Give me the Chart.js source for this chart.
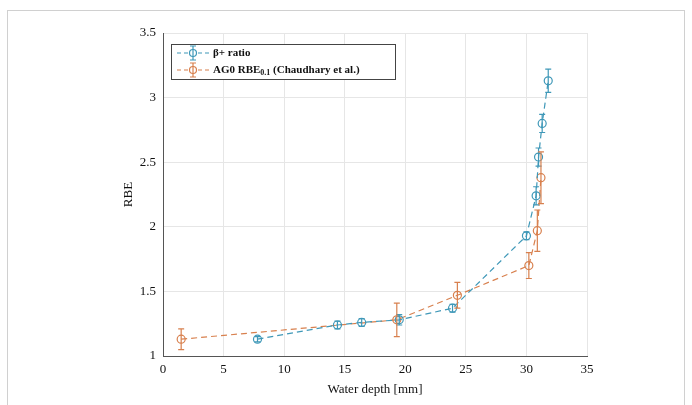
<!DOCTYPE html>
<html lang="en">
<head>
    <meta charset="utf-8" />
    <title>RBE vs water depth</title>
    <style>
        html, body { margin: 0; padding: 0; background: #fff; }
        .wrap { position: relative; width: 692px; height: 405px; overflow: hidden; }
        .frame {
            position: absolute; left: 7px; top: 10px; width: 678px; height: 420px;
            border: 1px solid #d0d0d0; box-sizing: border-box;
        }
        canvas { position: absolute; left: 0; top: 0; }
    </style>
</head>
<body>
    <div class="wrap">
        <div class="frame"></div>
        <canvas id="myChart" width="692" height="405"></canvas>
    </div>

    <script src="https://cdn.jsdelivr.net/npm/chart.js@4.4.1/dist/chart.umd.min.js"></script>
    <script>
        // beta+ ratio series
        var betaDepth = [7.8, 14.4, 16.4, 19.5, 23.9, 30.0, 30.8, 31.0, 31.3, 31.8];
        var betaRBE   = [1.13, 1.24, 1.26, 1.28, 1.37, 1.93, 2.24, 2.54, 2.80, 3.13];
        var betaErr   = [0.02, 0.03, 0.03, 0.04, 0.03, 0.03, 0.07, 0.07, 0.07, 0.09];

        // AG0 RBE (Chaudhary et al.)
        var ag0Depth = [1.5, 19.3, 24.3, 30.2, 30.9, 31.2];
        var ag0RBE   = [1.13, 1.28, 1.47, 1.70, 1.97, 2.38];
        var ag0Err   = [0.08, 0.13, 0.10, 0.10, 0.16, 0.20];

        var xTicks = [0, 5, 10, 15, 20, 25, 30, 35];
        var yTicks = [1, 1.5, 2, 2.5, 3, 3.5];

        var blue = '#3f98b8';
        var orange = '#d8804e';
        var serif = '"Liberation Serif", "DejaVu Serif", serif';

        function pts(xs, ys) {
            return xs.map(function (x, i) { return { x: x, y: ys[i] }; });
        }

        // vertical error bars drawn through the chart scales
        var errorBars = {
            id: 'errorBars',
            afterDatasetsDraw: function (chart) {
                var ctx = chart.ctx;
                var xs = chart.scales.x, ys = chart.scales.y;
                chart.data.datasets.forEach(function (ds) {
                    ctx.save();
                    ctx.strokeStyle = ds.borderColor;
                    ctx.lineWidth = 1.2;
                    ds.data.forEach(function (p, i) {
                        var px = xs.getPixelForValue(p.x);
                        var top = ys.getPixelForValue(p.y + ds.err[i]);
                        var bot = ys.getPixelForValue(p.y - ds.err[i]);
                        ctx.beginPath();
                        ctx.moveTo(px, top); ctx.lineTo(px, bot);
                        ctx.moveTo(px - 3, top); ctx.lineTo(px + 3, top);
                        ctx.moveTo(px - 3, bot); ctx.lineTo(px + 3, bot);
                        ctx.stroke();
                    });
                    ctx.restore();
                });
            }
        };

        // matlab style legend box
        var boxLegend = {
            id: 'boxLegend',
            afterDraw: function (chart) {
                var ctx = chart.ctx;
                var left = 171, top = 44, w = 224, h = 35;
                ctx.save();
                ctx.fillStyle = '#fff';
                ctx.fillRect(left, top, w, h);
                ctx.strokeStyle = '#444';
                ctx.lineWidth = 1;
                ctx.strokeRect(left + 0.5, top + 0.5, w, h);
                var rows = [
                    { y: top + 9, color: blue },
                    { y: top + 26, color: orange }
                ];
                rows.forEach(function (r) {
                    ctx.strokeStyle = r.color;
                    ctx.lineWidth = 1.2;
                    ctx.setLineDash([4, 3]);
                    ctx.beginPath();
                    ctx.moveTo(left + 6, r.y); ctx.lineTo(left + 38, r.y);
                    ctx.stroke();
                    ctx.setLineDash([]);
                    var cx = left + 22;
                    ctx.fillStyle = '#fff';
                    ctx.beginPath(); ctx.arc(cx, r.y, 3.5, 0, Math.PI * 2); ctx.fill(); ctx.stroke();
                    ctx.beginPath();
                    ctx.moveTo(cx, r.y - 7); ctx.lineTo(cx, r.y + 7);
                    ctx.moveTo(cx - 3, r.y - 7); ctx.lineTo(cx + 3, r.y - 7);
                    ctx.moveTo(cx - 3, r.y + 7); ctx.lineTo(cx + 3, r.y + 7);
                    ctx.stroke();
                });
                ctx.fillStyle = '#111';
                ctx.textBaseline = 'middle';
                ctx.font = 'bold 11px ' + serif;
                var tx = left + 42;
                ctx.fillText('\u03b2+ ratio', tx, rows[0].y);
                var t1 = 'AG0 RBE';
                ctx.fillText(t1, tx, rows[1].y);
                var w1 = ctx.measureText(t1).width;
                ctx.font = 'bold 8px ' + serif;
                ctx.fillText('0.1', tx + w1, rows[1].y + 3);
                var w2 = ctx.measureText('0.1').width;
                ctx.font = 'bold 11px ' + serif;
                ctx.fillText(' (Chaudhary et al.)', tx + w1 + w2, rows[1].y);
                ctx.restore();
            }
        };

        var ctx = document.getElementById('myChart');
        var myChart = new Chart(ctx, {
            type: 'line',
            data: {
                datasets: [{
                    label: '\u03b2+ ratio',
                    data: pts(betaDepth, betaRBE),
                    err: betaErr,
                    borderColor: blue,
                    backgroundColor: 'rgba(255,255,255,0)',
                    borderDash: [6, 4],
                    borderWidth: 1.2,
                    pointRadius: 4,
                    pointBorderWidth: 1.2,
                    tension: 0
                }, {
                    label: 'AG0 RBE0.1 (Chaudhary et al.)',
                    data: pts(ag0Depth, ag0RBE),
                    err: ag0Err,
                    borderColor: orange,
                    backgroundColor: 'rgba(255,255,255,0)',
                    borderDash: [6, 4],
                    borderWidth: 1.2,
                    pointRadius: 4,
                    pointBorderWidth: 1.2,
                    tension: 0
                }]
            },
            options: {
                responsive: false,
                animation: false,
                layout: { padding: { left: 117, right: 105, top: 33, bottom: 4 } },
                plugins: {
                    legend: { display: false },
                    tooltip: { enabled: false }
                },
                scales: {
                    x: {
                        type: 'linear',
                        min: 0, max: 35,
                        afterFit: function (s) { s.height = 45; },
                        afterBuildTicks: function (s) { s.ticks = xTicks.map(function (v) { return { value: v }; }); },
                        grid: { color: '#e6e6e6', drawTicks: false },
                        border: { color: '#555', width: 1 },
                        ticks: { color: '#111', padding: 6, font: { family: serif, size: 13 },
                                 callback: function (v) { return String(v); } },
                        title: { display: true, text: 'Water depth [mm]', color: '#111', padding: { top: 0 }, font: { family: serif, size: 13 } }
                    },
                    y: {
                        type: 'linear',
                        min: 1, max: 3.5,
                        afterFit: function (s) { s.width = 46; },
                        afterBuildTicks: function (s) { s.ticks = yTicks.map(function (v) { return { value: v }; }); },
                        grid: { color: '#e6e6e6', drawTicks: false },
                        border: { color: '#555', width: 1 },
                        ticks: { color: '#111', padding: 7, font: { family: serif, size: 13 },
                                 callback: function (v) { return String(v); } },
                        title: { display: true, text: 'RBE', color: '#111', padding: { bottom: 0 }, font: { family: serif, size: 13 } }
                    }
                }
            },
            plugins: [errorBars, boxLegend]
        });
    </script>
</body>
</html>
